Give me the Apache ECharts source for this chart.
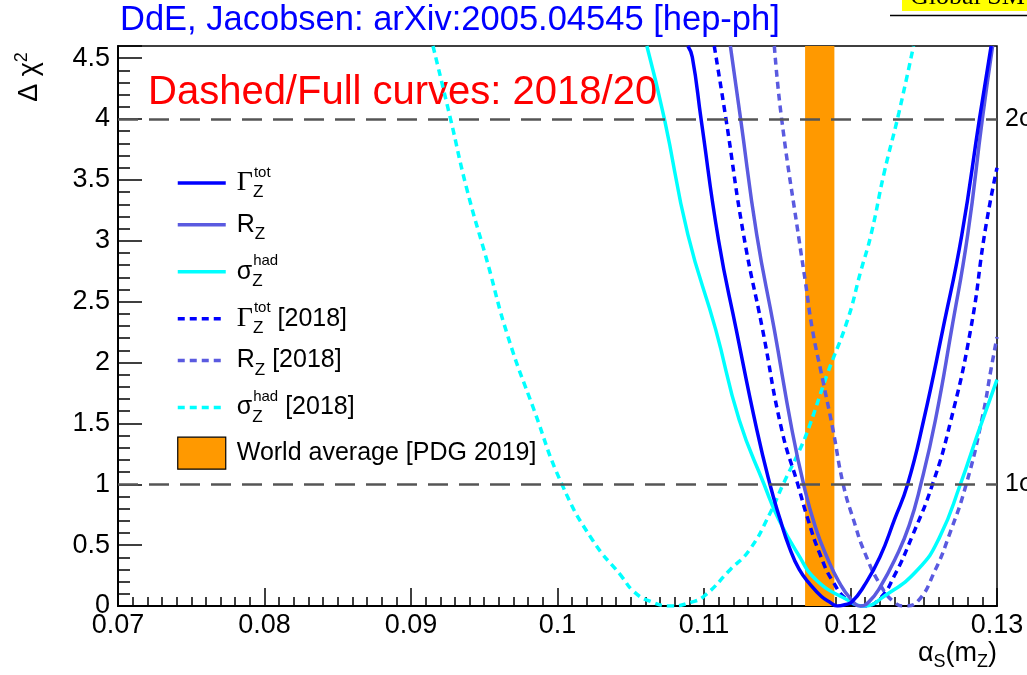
<!DOCTYPE html>
<html>
<head>
<meta charset="utf-8">
<script src="https://cdn.jsdelivr.net/npm/echarts@6/dist/echarts.min.js"></script>
<style>
html,body{margin:0;padding:0;background:#fff;}
#chart{width:1027px;height:675px;}
</style>
</head>
<body>
<div id="chart"></div>
<script>
// ---- data ----
const xTicks = [0.07, 0.08, 0.09, 0.1, 0.11, 0.12, 0.13];
const yTicks = [0, 0.5, 1, 1.5, 2, 2.5, 3, 3.5, 4, 4.5];
const yMax = 4.6;

// [alpha_s, delta chi^2]
const gammaZ2020 = [[0.1089,4.6],[0.1092,4.51],[0.1098,4.0],[0.1110,3.0],[0.1122,2.27],[0.1136,1.45],[0.1145,1.0],[0.1152,0.71],[0.1158,0.49],[0.1165,0.3],[0.1173,0.17],[0.1180,0.08],[0.1186,0.03],[0.1191,0.0],[0.1196,0.01],[0.1201,0.035],[0.1209,0.16],[0.1220,0.40],[0.1230,0.71],[0.1239,1.0],[0.1250,1.53],[0.1263,2.27],[0.1276,3.05],[0.1288,4.0],[0.1296,4.6]];
const rZ2020 = [[0.1118,4.6],[0.1125,4.0],[0.1136,3.05],[0.1148,2.27],[0.1160,1.45],[0.1168,1.0],[0.1176,0.65],[0.1184,0.40],[0.1192,0.20],[0.1200,0.06],[0.1207,0.0],[0.1213,0.04],[0.1220,0.15],[0.1231,0.40],[0.1240,0.66],[0.1248,1.0],[0.1258,1.53],[0.1269,2.27],[0.1280,3.05],[0.1290,4.0],[0.1297,4.6]];
const sigmaHad2020 = [[0.1061,4.6],[0.1073,4.0],[0.1089,3.05],[0.1108,2.27],[0.1124,1.53],[0.1141,1.0],[0.1151,0.71],[0.1164,0.43],[0.1177,0.21],[0.1198,0.05],[0.1209,0.0],[0.1223,0.08],[0.1246,0.30],[0.1261,0.57],[0.1275,1.0],[0.1287,1.42],[0.1300,1.86]];
const gammaZ2018 = [[0.1107,4.6],[0.1115,4.0],[0.1127,3.05],[0.1140,2.27],[0.1153,1.45],[0.1164,1.0],[0.1171,0.71],[0.1179,0.43],[0.1188,0.2],[0.1199,0.04],[0.1210,0.0],[0.1220,0.06],[0.1230,0.25],[0.1242,0.57],[0.1256,1.0],[0.1268,1.5],[0.1282,2.27],[0.1292,3.09],[0.1300,3.6]];
const rZ2018 = [[0.1148,4.6],[0.1153,4.0],[0.1165,3.0],[0.1169,2.68],[0.1174,2.27],[0.1181,1.86],[0.1188,1.45],[0.1195,1.0],[0.1202,0.71],[0.1210,0.43],[0.1221,0.16],[0.1230,0.03],[0.1237,0.0],[0.1246,0.04],[0.1258,0.30],[0.1267,0.57],[0.1279,1.0],[0.1290,1.55],[0.1296,1.95],[0.1300,2.21]];
const sigmaHad2018 = [[0.0915,4.6],[0.0927,4.0],[0.0938,3.43],[0.0952,2.83],[0.0966,2.22],[0.0984,1.61],[0.1003,1.0],[0.1024,0.54],[0.1044,0.24],[0.1052,0.12],[0.1063,0.04],[0.1078,0.0],[0.1091,0.03],[0.1100,0.08],[0.1118,0.30],[0.1131,0.46],[0.1145,0.76],[0.1154,1.0],[0.1166,1.3],[0.1172,1.48],[0.1184,1.9],[0.1198,2.35],[0.1207,2.75],[0.1214,3.05],[0.1223,3.56],[0.1233,4.05],[0.1243,4.6]];
const worldAverage = [0.1169, 0.1189];
const sigmaLevels = [4, 1];
const sigmaLabels = ['2σ', '1σ'];

const seriesNames = ['GZ', 'RZ', 'SH', 'GZ18', 'RZ18', 'SH18', 'WA'];

// ---- chart ----
const FONT = 'Liberation Sans';
const legendText = {
  GZ: '{g|Γ}{sub|Z}{sup|tot}',
  RZ: '{t|R}{subw|Z}',
  SH: '{t|σ}{sub|Z}{sup|had}',
  GZ18: '{g|Γ}{sub|Z}{sup|tot}{t| [2018]}',
  RZ18: '{t|R}{subw|Z}{t| [2018]}',
  SH18: '{t|σ}{sub|Z}{sup|had}{t| [2018]}',
  WA: '{t|World average [PDG 2019]}'
};

const BLUE = '#0000ff', MID = '#5a5ae0', CYAN = '#00ffff';
const DASH = [7, 5];
const LW = 3.5;

function curve(name, data, color, dashed) {
  return {
    type: 'line', name: name, data: data,
    symbol: 'none', showSymbol: false,
    smooth: 0.5,
    clip: true, z: 3,
    lineStyle: { color: color, width: LW, type: dashed ? DASH : 'solid' },
    itemStyle: { color: color },
    emphasis: { disabled: true }
  };
}
function legendLine(name, color, dashed) {
  return { name: name, itemStyle: { color: 'rgba(0,0,0,0)', borderWidth: 0, opacity: 0 },
    lineStyle: { color: color, width: LW, type: dashed ? DASH : 'solid' } };
}

const chart = echarts.init(document.getElementById('chart'), null, { renderer: 'canvas' });
chart.setOption({
  animation: false,
  backgroundColor: '#ffffff',
  grid: { left: 118, right: 30, top: 46, bottom: 69, show: true, borderColor: '#000', borderWidth: 1.5, backgroundColor: 'transparent' },
  xAxis: {
    type: 'value', min: xTicks[0], max: xTicks[xTicks.length - 1], interval: 0.01,
    axisLine: { show: true, lineStyle: { color: '#000', width: 2 } },
    axisTick: { show: true, inside: true, length: 18, lineStyle: { color: '#000', width: 1.5 } },
    minorTick: { show: true, splitNumber: 10, length: 9, lineStyle: { color: '#000', width: 1.5 } },
    splitLine: { show: false },
    axisLabel: { fontFamily: FONT, fontSize: 27, color: '#000', margin: 6,
      formatter: v => String(+v.toFixed(3)) }
  },
  yAxis: {
    type: 'value', min: yTicks[0], max: yMax, interval: 0.5,
    axisLine: { show: true, lineStyle: { color: '#000', width: 2 } },
    axisTick: { show: true, inside: true, length: 24, lineStyle: { color: '#000', width: 1.5 } },
    minorTick: { show: true, splitNumber: 5, length: 12, lineStyle: { color: '#000', width: 1.5 } },
    splitLine: { show: false },
    axisLabel: { fontFamily: FONT, fontSize: 27, color: '#000', margin: 8, showMaxLabel: false,
      formatter: v => { const r = +v.toFixed(2); return yTicks.indexOf(r) >= 0 ? String(r) : ''; } }
  },
  legend: {
    orient: 'vertical', left: 171, top: 160,
    itemWidth: 48, itemHeight: 32, itemGap: 11,
    selectedMode: false,
    data: [
      legendLine(seriesNames[0], BLUE, false), legendLine(seriesNames[1], MID, false), legendLine(seriesNames[2], CYAN, false),
      legendLine(seriesNames[3], BLUE, true), legendLine(seriesNames[4], MID, true), legendLine(seriesNames[5], CYAN, true),
      { name: seriesNames[6], icon: 'rect', itemStyle: { color: '#ff9900', borderColor: '#000', borderWidth: 1.2 } }
    ],
    formatter: n => legendText[n],
    textStyle: {
      fontFamily: FONT, fontSize: 25, color: '#000', padding: [0, 0, 0, 6],
      rich: {
        g: { fontFamily: 'Liberation Serif', fontSize: 28, lineHeight: 36, color: '#000' },
        t: { fontFamily: FONT, fontSize: 25, lineHeight: 36, color: '#000' },
        sub: { fontFamily: FONT, fontSize: 17, verticalAlign: 'bottom', width: 1, color: '#000' },
        subw: { fontFamily: FONT, fontSize: 17, verticalAlign: 'bottom', color: '#000' },
        sup: { fontFamily: FONT, fontSize: 15, verticalAlign: 'top', color: '#000' }
      }
    }
  },
  graphic: [
    { type: 'rect', left: 902, top: 0, shape: { width: 125, height: 11 }, style: { fill: '#ffff00' }, z: 10 },
    { type: 'text', x: 910, y: 10, style: { text: 'Global SM fit', fontFamily: 'Liberation Serif', fontSize: 26, fill: '#000', verticalAlign: 'bottom' }, z: 11 },
    { type: 'rect', left: 0, top: 11, shape: { width: 1027, height: 4 }, style: { fill: '#fff' }, z: 12 },
    { type: 'line', shape: { x1: 890, y1: 15.5, x2: 1027, y2: 15.5 }, style: { stroke: '#000', lineWidth: 1.5 }, z: 12 },
    { type: 'text', x: 120, y: 20, style: { text: 'DdE, Jacobsen: arXiv:2005.04545 [hep-ph]', fontFamily: FONT, fontSize: 34.5, fill: '#0000ff', verticalAlign: 'middle' }, z: 12 },
    { type: 'text', x: 148, y: 93, style: { text: 'Dashed/Full curves: 2018/20', fontFamily: FONT, fontSize: 40, fill: '#ff0000', verticalAlign: 'middle' }, z: 1 },
    { type: 'text', x: 30, y: 77, rotation: Math.PI / 2,
      style: { text: '{a|Δ χ}{s|2}', align: 'center', verticalAlign: 'middle',
        rich: { a: { fontFamily: FONT, fontSize: 27, fill: '#000', lineHeight: 34 }, s: { fontFamily: FONT, fontSize: 18, fill: '#000', verticalAlign: 'top' } } }, z: 12 },
    { type: 'text', x: 997, y: 654,
      style: { text: '{a|α}{s|S}{a|(m}{s|Z}{a|)}', align: 'right', verticalAlign: 'middle',
        rich: { a: { fontFamily: FONT, fontSize: 27, fill: '#000', lineHeight: 34 }, s: { fontFamily: FONT, fontSize: 18, fill: '#000', verticalAlign: 'bottom' } } }, z: 12 }
  ],
  series: [
    {
      type: 'line', name: seriesNames[6], data: [[ (worldAverage[0] + worldAverage[1]) / 2, 0 ]],
      symbol: 'none', lineStyle: { width: 0 }, z: 1,
      itemStyle: { color: '#ff9900', borderColor: '#000', borderWidth: 1.2 },
      markArea: { silent: true, itemStyle: { color: '#ff9900' },
        data: [[{ xAxis: worldAverage[0] }, { xAxis: worldAverage[1] }]] }
    },
    curve(seriesNames[5], sigmaHad2018, CYAN, true),
    curve(seriesNames[4], rZ2018, MID, true),
    curve(seriesNames[3], gammaZ2018, BLUE, true),
    curve(seriesNames[2], sigmaHad2020, CYAN, false),
    curve(seriesNames[1], rZ2020, MID, false),
    curve(seriesNames[0], gammaZ2020, BLUE, false),
    {
      type: 'line', name: 'sigma', data: [], z: 5, symbol: 'none',
      markLine: {
        silent: true, symbol: 'none',
        lineStyle: { color: '#555', width: 2.5, type: [20, 11] },
        label: { position: 'end', distance: 8, fontFamily: FONT, fontSize: 25, color: '#000' },
        data: sigmaLevels.map((v, i) => ({ yAxis: v, label: { formatter: sigmaLabels[i] } }))
      }
    }
  ]
});
</script>
</body>
</html>
